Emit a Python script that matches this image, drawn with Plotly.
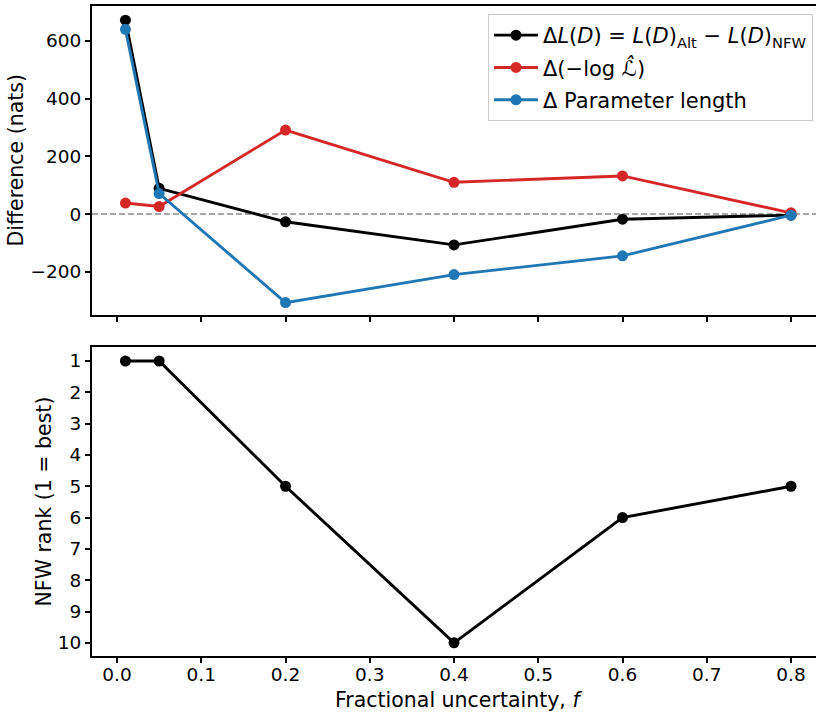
import plotly.graph_objects as go

f_vals = [0.01, 0.05, 0.2, 0.4, 0.6, 0.8]
delta_L = [672, 89, -27, -107, -18, -4]
delta_loglik = [38, 26, 291, 110, 132, 4]
delta_param = [640, 71, -307, -210, -145, -4]
nfw_rank = [1, 1, 5, 10, 6, 5]

labels = [
    "Δ<i>L</i>(<i>D</i>) = <i>L</i>(<i>D</i>)<sub>Alt</sub> − <i>L</i>(<i>D</i>)<sub>NFW</sub>",
    "Δ(−log <i>ℒ̂</i>)",
    "Δ Parameter length",
]
colors = ["#000000", "#d62728", "#1f77b4"]

FONT = "DejaVu Sans"
W, H = 816, 712
ML, MR, MT, MB = 92, 0, 6, 56
PW = W - ML - MR
PH = H - MT - MB

fig = go.Figure()
for i, (ys, name, c) in enumerate(zip([delta_L, delta_loglik, delta_param], labels, colors)):
    fig.add_trace(go.Scatter(
        x=f_vals, y=ys, mode="lines+markers", name=name,
        legendgroup=f"g{i}",
        line=dict(color=c, width=2.9),
        marker=dict(color=c, size=11),
        xaxis="x", yaxis="y",
    ))

fig.add_trace(go.Scatter(
    x=f_vals, y=nfw_rank, mode="lines+markers", showlegend=False,
    line=dict(color="#000000", width=2.9),
    marker=dict(color="#000000", size=11),
    xaxis="x2", yaxis="y2",
))

top_dom = [1 - 309 / PH, 1]
bot_dom = [0, 1 - 341 / PH]
xr = [-0.0297, (W - 117) / 842.5]

axis_common = dict(
    showline=True, linecolor="black", linewidth=1.9,
    ticks="outside", ticklen=5, tickwidth=1.5, tickcolor="black",
    showgrid=False, zeroline=False,
    tickfont=dict(family=FONT, size=18.5, color="black"),
    automargin=False,
)

xticks = [0, 0.1, 0.2, 0.3, 0.4, 0.5, 0.6, 0.7, 0.8]
xtext = ["0.0", "0.1", "0.2", "0.3", "0.4", "0.5", "0.6", "0.7", "0.8"]

fig.update_layout(
    width=W, height=H,
    margin=dict(l=ML, r=MR, t=MT, b=MB),
    paper_bgcolor="white", plot_bgcolor="white",
    font=dict(family=FONT, color="black"),
    xaxis=dict(domain=[0, 1], anchor="y", range=xr, showticklabels=False,
               tickvals=xticks, mirror=True, matches="x2", **axis_common),
    yaxis=dict(domain=top_dom, anchor="x", range=[-350, 721],
               tickvals=[-200, 0, 200, 400, 600], **axis_common),
    xaxis2=dict(domain=[0, 1], anchor="y2", range=xr,
                tickvals=xticks, ticktext=xtext, ticklabelstandoff=-4,
                mirror=True, **axis_common),
    yaxis2=dict(domain=bot_dom, anchor="x2", range=[10.42, 0.553],
                tickvals=list(range(1, 11)), **axis_common),
    legend=dict(
        x=(813 - ML) / PW, y=1 - (14 - MT) / PH, xanchor="right", yanchor="top",
        bgcolor="rgba(255,255,255,0.8)", bordercolor="#cccccc", borderwidth=1,
        font=dict(family=FONT, size=21, color="black"),
        traceorder="grouped", tracegroupgap=2,
        itemwidth=44,
    ),
    shapes=[dict(type="line", xref="x domain", yref="y", x0=0, x1=1, y0=0, y1=0,
                 line=dict(color="#8c8c8c", width=1.5, dash="6px,3px"), layer="below")],
    annotations=[
        dict(text="Difference (nats)", xref="paper", yref="paper",
             x=(16 - ML) / PW, y=sum(top_dom) / 2, textangle=-90,
             showarrow=False, xanchor="center", yanchor="middle",
             font=dict(family=FONT, size=20.5, color="black")),
        dict(text="NFW rank (1 = best)", xref="paper", yref="paper",
             x=(43 - ML) / PW, y=sum(bot_dom) / 2, textangle=-90,
             showarrow=False, xanchor="center", yanchor="middle",
             font=dict(family=FONT, size=20.5, color="black")),
        dict(text="Fractional uncertainty, <i>f</i>", xref="paper", yref="paper",
             x=(458 - ML) / PW, y=-(700 - (H - MB)) / PH,
             showarrow=False, xanchor="center", yanchor="middle",
             font=dict(family=FONT, size=20.5, color="black")),
    ],
)

fig.write_html("out.html")
